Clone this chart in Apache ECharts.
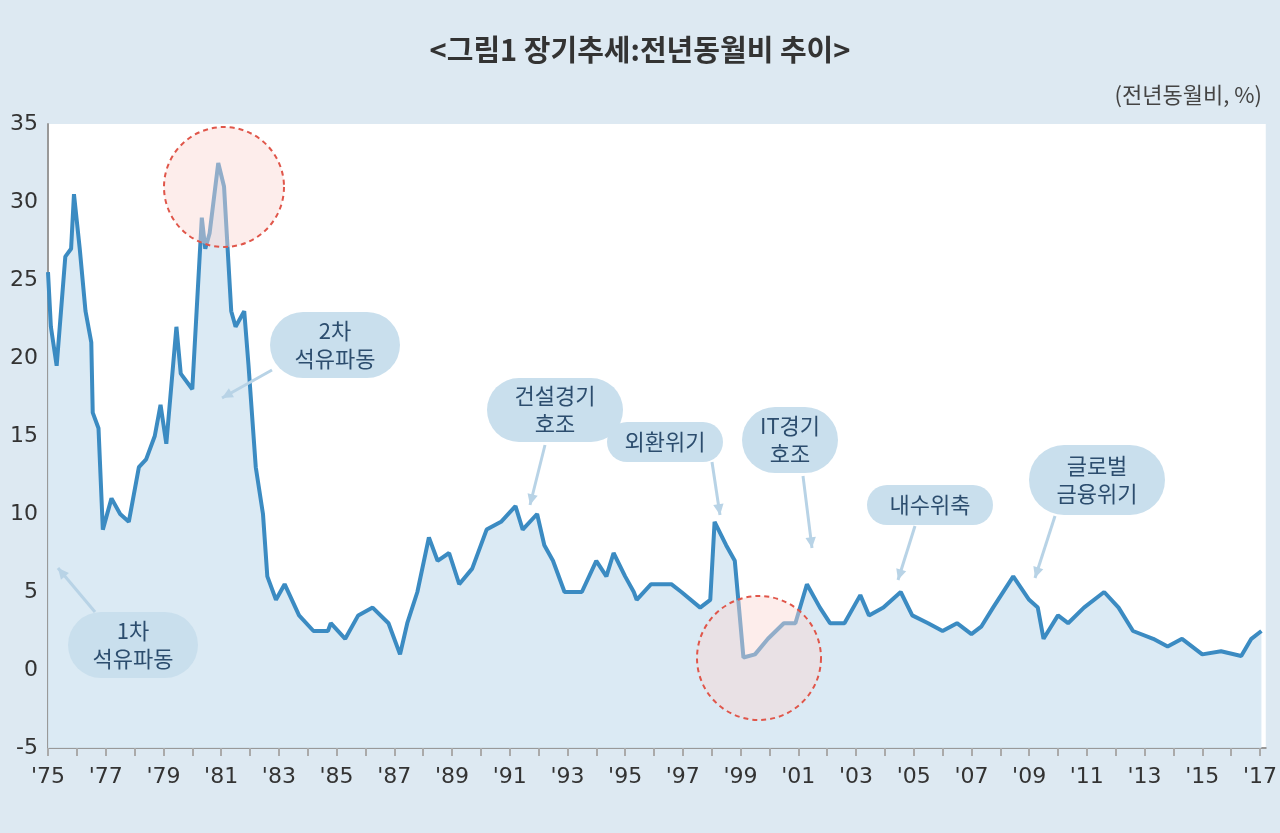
<!DOCTYPE html>
<html>
<head>
<meta charset="utf-8">
<script src="https://cdn.jsdelivr.net/npm/echarts@6/dist/echarts.min.js"></script>
<style>
  html, body { margin:0; padding:0; background:#dde9f2; }
  #main { width:1280px; height:833px; }
</style>
</head>
<body>
<div id="main"></div>
<script>
// 시점(연도, 소수) 과 전년동월비(%) - 그림에서 읽은 값
var times = [1975.0,1975.1,1975.3,1975.6,1975.8,1975.9,1976.1,1976.3,1976.5,1976.55,1976.75,1976.9,
  1977.2,1977.5,1977.8,1978.15,1978.4,1978.7,1978.9,1979.1,1979.45,1979.6,1980.0,1980.15,1980.27,1980.33,
  1980.45,1980.6,1980.9,1981.1,1981.35,1981.5,1981.8,1981.95,1982.2,1982.45,1982.6,1982.9,1983.2,1983.7,
  1984.2,1984.7,1984.8,1985.3,1985.75,1986.25,1986.8,1987.2,1987.45,1987.8,1988.2,1988.5,1988.9,1989.25,
  1989.7,1990.2,1990.7,1991.2,1991.45,1991.95,1992.2,1992.5,1992.9,1993.5,1994.0,1994.35,1994.6,1995.0,
  1995.3,1995.4,1995.9,1996.6,1996.95,1997.6,1997.95,1998.1,1998.5,1998.8,1999.1,1999.5,1999.95,2000.5,
  2000.9,2001.3,2001.75,2002.1,2002.6,2003.15,2003.45,2003.95,2004.55,2004.95,2005.5,2006.0,2006.5,2007.0,
  2007.35,2007.75,2008.45,2009.0,2009.3,2009.5,2010.0,2010.35,2010.9,2011.6,2012.1,2012.6,2013.3,2013.8,
  2014.3,2015.0,2015.65,2016.35,2016.7,2017.05];
var values = [25.5,22,19.5,26.5,27,30.5,27,23,21,16.5,15.5,9,
  11,10,9.5,13,13.5,15,17,14.5,22,19,18,23,27,29,
  27,28,32.5,31,23,22,23,19.5,13,10,6,4.5,5.5,3.5,
  2.5,2.5,3,2,3.5,4,3,1,3,5,8.5,7,7.5,5.5,
  6.5,9,9.5,10.5,9,10,8,7,5,5,7,6,7.5,6,
  5,4.5,5.5,5.5,5,4,4.5,9.5,8,7,0.8,1,2,3,
  3,5.5,4,3,3,4.8,3.5,4,5,3.5,3,2.5,3,2.3,
  2.8,4,6,4.5,4,2,3.5,3,4,5,4,2.5,2,1.5,
  2,1,1.2,0.9,2,2.5];
var yTicks = [-5, 35, 5]; // min, max, interval

var seriesData = [];
for (var i = 0; i < times.length; i++) seriesData.push([times[i], values[i]]);

// 말풍선 주석
var notes = [
  {text:'1차\n석유파동', cx:133, cy:645, w:130, h:66, from:[95,612], to:[58,568]},
  {text:'2차\n석유파동', cx:335, cy:345, w:130, h:66, from:[272,370], to:[222,398]},
  {text:'건설경기\n호조', cx:555, cy:410, w:136, h:64, from:[545,445], to:[530,505]},
  {text:'외환위기', cx:665, cy:442, w:116, h:40, from:[712,462], to:[720,515]},
  {text:'IT경기\n호조', cx:790, cy:440, w:96, h:66, from:[803,476], to:[812,548]},
  {text:'내수위축', cx:930, cy:505, w:126, h:40, from:[915,526], to:[898,580]},
  {text:'글로벌\n금융위기', cx:1097, cy:480, w:136, h:70, from:[1055,516], to:[1035,578]}
];

var graphics = [
  {type:'circle', shape:{cx:224, cy:187, r:60}, z:50,
   style:{fill:'rgba(250,215,210,0.45)', stroke:'#e0564a', lineWidth:2, lineDash:[5,4]}},
  {type:'circle', shape:{cx:759, cy:658, r:62}, z:50,
   style:{fill:'rgba(250,215,210,0.45)', stroke:'#e0564a', lineWidth:2, lineDash:[5,4]}}
];
notes.forEach(function (n) {
  graphics.push({type:'line', z:40, shape:{x1:n.from[0], y1:n.from[1], x2:n.to[0], y2:n.to[1]},
    style:{stroke:'#b8d3e6', lineWidth:3}});
  var ang = Math.atan2(n.to[1]-n.from[1], n.to[0]-n.from[0]);
  var L = 12;
  graphics.push({type:'polygon', z:40, shape:{points:[
      [n.to[0], n.to[1]],
      [n.to[0]-L*Math.cos(ang-0.45), n.to[1]-L*Math.sin(ang-0.45)],
      [n.to[0]-L*Math.cos(ang+0.45), n.to[1]-L*Math.sin(ang+0.45)]]},
    style:{fill:'#b8d3e6'}});
  graphics.push({type:'rect', z:41, shape:{x:n.cx-n.w/2, y:n.cy-n.h/2, width:n.w, height:n.h, r:n.h/2},
    style:{fill:'#c9dfed'}});
  graphics.push({type:'text', z:42, x:n.cx, y:n.cy,
    style:{text:n.text, fill:'#2c4d6e', font:'22px "Noto Sans CJK KR"', align:'center',
      verticalAlign:'middle', lineHeight:28}});
});

var chart = echarts.init(document.getElementById('main'));
chart.setOption({
  backgroundColor:'#dde9f2',
  title:{text:'<그림1 장기추세:전년동월비 추이>', left:'center', top:30,
    textStyle:{fontSize:29, fontWeight:'bold', color:'#333', fontFamily:'"Noto Sans CJK KR"'}},
  graphic:graphics.concat([{type:'text', right:18, top:84,
    style:{text:'(전년동월비, %)', fill:'#444', font:'22px "Noto Sans CJK KR"'}}]),
  grid:{left:48, right:8, top:124, bottom:85, show:true, backgroundColor:'#ffffff', borderWidth:0},
  xAxis:{type:'value', min:1975, max:2017.2, interval:1,
    axisLine:{onZero:false, lineStyle:{color:'#999', width:2}},
    axisTick:{show:true, length:8, lineStyle:{color:'#aaa', width:2}},
    splitLine:{show:false},
    axisLabel:{fontSize:22, color:'#333', margin:18, fontFamily:'"DejaVu Sans"',
      formatter:function (v) { return (Math.round(v) % 2 === 1) ? "'" + String(Math.round(v)).slice(2) : ''; }}},
  yAxis:{type:'value', min:yTicks[0], max:yTicks[1], interval:yTicks[2],
    axisLine:{show:true, lineStyle:{color:'#999', width:2}},
    axisTick:{show:false}, splitLine:{show:false},
    axisLabel:{fontSize:22, color:'#333', margin:10, fontFamily:'"DejaVu Sans"'}},
  series:[{type:'line', data:seriesData, showSymbol:false, z:30,
    lineStyle:{color:'#3b8bc2', width:4},
    areaStyle:{color:'#d7e8f3', origin:'start', opacity:0.9}}]
});
</script>
</body>
</html>
